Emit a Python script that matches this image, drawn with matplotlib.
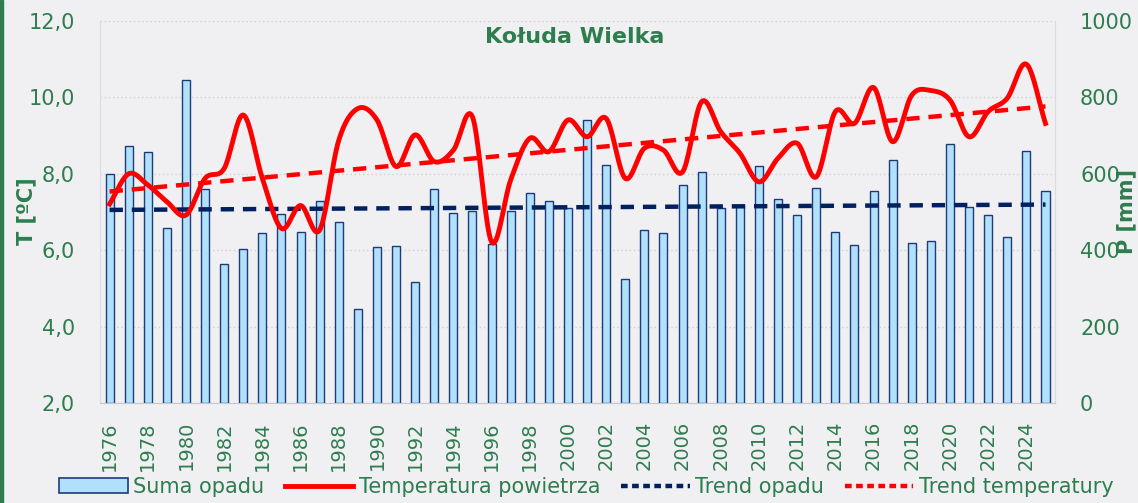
import numpy as np
import matplotlib
matplotlib.use("Agg")
import matplotlib.pyplot as plt
from matplotlib.patches import Patch
from matplotlib.lines import Line2D

# data
years = list(range(1976, 2026))
precip = [599, 674, 656, 459, 845, 559, 363, 402, 444, 496,
          448, 530, 475, 247, 408, 412, 317, 559, 497, 502,
          416, 503, 549, 530, 510, 740, 624, 324, 454, 444,
          571, 605, 510, 518, 621, 534, 491, 563, 448, 413,
          554, 635, 420, 423, 679, 513, 491, 434, 660, 555]
temp = [7.21, 8.00, 7.71, 7.27, 6.92, 7.88, 8.14, 9.54, 7.88, 6.57,
        7.17, 6.53, 8.88, 9.71, 9.41, 8.19, 9.02, 8.32, 8.62, 9.49,
        6.22, 7.84, 8.93, 8.58, 9.41, 8.97, 9.45, 7.88, 8.67, 8.62,
        8.05, 9.89, 9.10, 8.54, 7.79, 8.41, 8.80, 7.92, 9.63, 9.32,
        10.26, 8.84, 10.06, 10.18, 9.93, 8.97, 9.63, 9.98, 10.87, 9.32]

GREEN = "#2e7d4f"
BG = "#f0f0f2"


def smooth(x, y, n=20):
    # Catmull-Rom curve through the points (like Excel's smoothed line)
    x = np.asarray(x, float)
    y = np.asarray(y, float)
    px = np.concatenate([[2 * x[0] - x[1]], x, [2 * x[-1] - x[-2]]])
    py = np.concatenate([[2 * y[0] - y[1]], y, [2 * y[-1] - y[-2]]])
    xs, ys = [], []
    t = np.linspace(0, 1, n, endpoint=False)
    for i in range(1, len(px) - 2):
        for p, out in ((px, xs), (py, ys)):
            p0, p1, p2, p3 = p[i - 1], p[i], p[i + 1], p[i + 2]
            out.extend(0.5 * (2 * p1 + (-p0 + p2) * t
                              + (2 * p0 - 5 * p1 + 4 * p2 - p3) * t ** 2
                              + (-p0 + 3 * p1 - 3 * p2 + p3) * t ** 3))
    xs.append(x[-1])
    ys.append(y[-1])
    return np.array(xs), np.array(ys)


fig = plt.figure(figsize=(11.38, 5.03), dpi=100, facecolor=BG)
ax2 = fig.add_axes([0.0879, 0.1988, 0.8392, 0.7594])
ax = ax2.twinx()
ax2.set_facecolor(BG)
ax.set_zorder(ax2.get_zorder() + 1)
ax.patch.set_visible(False)

# bars on the precipitation axis
ax2.bar(years, precip, width=0.42, color="#b0e0fa", edgecolor="#1f3a7a",
        linewidth=1.0, zorder=2)
ax2.set_ylim(0, 1000)
ax2.set_yticks(range(0, 1001, 200))
ax2.yaxis.tick_right()
ax2.grid(axis="y", color="#d0d0d4", linestyle=(0, (1, 2)), linewidth=1, zorder=0)

# trend lines
yr = np.array(years, float)
cp = np.polyfit(yr, precip, 1)
ax2.plot(yr, np.polyval(cp, yr), color="#002060", linewidth=3.2,
         linestyle=(0, (3, 2)), zorder=3)

# temperature on left axis
ax.yaxis.tick_left()
sx, sy = smooth(years, temp)
ax.plot(sx, sy, color="#ff0000", linewidth=3.5, zorder=4)
ct = np.polyfit(yr, temp, 1)
ax.plot(yr, np.polyval(ct, yr), color="#ff0000", linewidth=3.2,
        linestyle=(0, (3, 2)), zorder=4)
ax.set_ylim(2, 12)
ax.set_yticks(np.arange(2, 12.1, 2))
ax.set_yticklabels([f"{v:.1f}".replace(".", ",") for v in np.arange(2, 12.1, 2)])

ax2.set_xlim(1975.5, 2025.5)
ax2.set_xticks(years[::2])
ax2.set_xticklabels([str(y) for y in years[::2]], rotation=90)

for a in (ax, ax2):
    for s in a.spines.values():
        s.set_visible(False)
ax2.spines["bottom"].set_visible(True)
ax2.spines["bottom"].set_color("#c8c8cc")
ax2.spines["left"].set_visible(True)
ax2.spines["left"].set_color("#dcdce0")
ax2.spines["right"].set_visible(True)
ax2.spines["right"].set_color("#dcdce0")

ax.tick_params(axis="y", length=0, pad=18, labelsize=15, labelcolor=GREEN)
ax2.tick_params(axis="y", length=0, pad=18, labelsize=15, labelcolor=GREEN)
ax2.tick_params(axis="x", length=0, pad=13, labelsize=14, labelcolor=GREEN)

ax2.text(0.497, 0.958, "Kołuda Wielka", transform=ax2.transAxes,
         ha="center", va="center", fontsize=16, fontweight="bold",
         color=GREEN, zorder=10)

fig.text(0.023, 0.58, "T [ºC]", rotation=90, ha="center", va="center",
         fontsize=15, fontweight="bold", color=GREEN)
fig.text(0.99, 0.58, "P [mm]", rotation=90, ha="center", va="center",
         fontsize=15, fontweight="bold", color=GREEN)

handles = [
    Patch(facecolor="#b0e0fa", edgecolor="#1f3a7a", linewidth=1.2),
    Line2D([], [], color="#ff0000", linewidth=3.5),
    Line2D([], [], color="#002060", linewidth=3.2, linestyle=(0, (1.5, 1))),
    Line2D([], [], color="#ff0000", linewidth=3.2, linestyle=(0, (1.5, 1))),
]
labels = ["Suma opadu", "Temperatura powietrza", "Trend opadu", "Trend temperatury"]
leg = fig.legend(handles, labels, loc="lower center", bbox_to_anchor=(0.515, -0.025),
                 ncol=4, frameon=False, fontsize=15, handlelength=3.3,
                 handletextpad=0.25, columnspacing=1.0, labelcolor=GREEN)

# green strip at left edge
fig.add_artist(plt.Rectangle((0, 0), 0.003, 1, transform=fig.transFigure,
                             color=GREEN))

fig.savefig("out.png", dpi=100, facecolor=BG)
